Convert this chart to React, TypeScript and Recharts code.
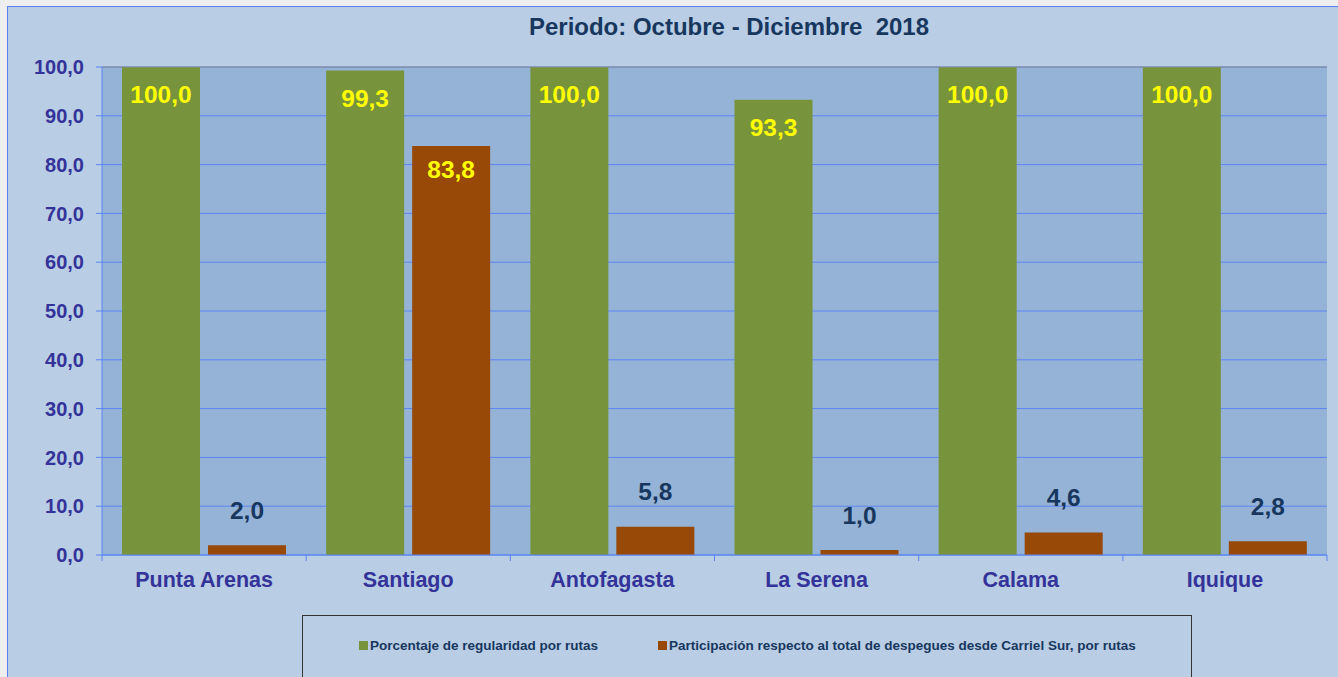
import React from 'react';
import {
  BarChart,
  Bar,
  XAxis,
  YAxis,
  CartesianGrid,
  ReferenceLine,
  LabelList
} from 'recharts';

const routes = ['Punta Arenas', 'Santiago', 'Antofagasta', 'La Serena', 'Calama', 'Iquique'];
const regularity = [100.0, 99.3, 100.0, 93.3, 100.0, 100.0];
const share = [2.0, 83.8, 5.8, 1.0, 4.6, 2.8];
const yTicks = [0, 10, 20, 30, 40, 50, 60, 70, 80, 90, 100];

const seriesNames = [
  'Porcentaje de regularidad por rutas',
  'Participación respecto al total de despegues desde Carriel Sur, por rutas'
];

const data = routes.map((name, i) => ({ name, regularity: regularity[i], share: share[i] }));

const FONT = '"Liberation Sans", Arial, sans-serif';
const GREEN = '#77933c';
const ORANGE = '#984807';
const NAVY = '#17375e';
const AXIS_TEXT = '#333399';
const GRID = '#5b84f2';

const W = 1338;
const H = 677;
const MARGIN = { top: 67, right: 11, bottom: 82, left: 12 };
const Y_WIDTH = 90;
const X_HEIGHT = 40;
const PLOT_LEFT = MARGIN.left + Y_WIDTH;
const PLOT_RIGHT = W - MARGIN.right;
const AXIS_Y = H - MARGIN.bottom - X_HEIGHT;
const BAND = (PLOT_RIGHT - PLOT_LEFT) / routes.length;

const fmt = (v: number) => v.toFixed(1).replace('.', ',');

// Excel-style category axis: ticks sit on the category boundaries
const XTick = (props: any) => {
  const { x, payload, index } = props;
  const left = x - BAND / 2;
  return (
    <g>
      <line x1={left} y1={AXIS_Y} x2={left} y2={AXIS_Y + 6} stroke={GRID} />
      {index === routes.length - 1 && (
        <line x1={left + BAND} y1={AXIS_Y} x2={left + BAND} y2={AXIS_Y + 6} stroke={GRID} />
      )}
      <text
        x={x}
        y={AXIS_Y + 26}
        textAnchor="middle"
        dominantBaseline="middle"
        fontFamily={FONT}
        fontSize={21.5}
        fontWeight="bold"
        fill={AXIS_TEXT}
      >
        {payload.value}
      </text>
    </g>
  );
};

const GreenLabel = (props: any) => {
  const { x, y, width, value } = props;
  return (
    <text
      x={x + width / 2}
      y={y + 30}
      textAnchor="middle"
      dominantBaseline="middle"
      fontFamily={FONT}
      fontSize={24.5}
      fontWeight="bold"
      fill="#ffff00"
    >
      {fmt(value)}
    </text>
  );
};

const OrangeLabel = (props: any) => {
  const { x, y, width, value } = props;
  const inside = value > 50;
  return (
    <text
      x={x + width / 2}
      y={inside ? y + 25 : y - 33}
      textAnchor="middle"
      dominantBaseline="middle"
      fontFamily={FONT}
      fontSize={24.5}
      fontWeight="bold"
      fill={inside ? '#ffff00' : NAVY}
    >
      {fmt(value)}
    </text>
  );
};

const LegendBox = () => (
  <div
    style={{
      position: 'absolute',
      left: 302,
      top: 615,
      width: 890,
      height: 70,
      border: '1px solid #333',
      boxSizing: 'border-box',
      fontFamily: FONT,
      fontSize: 13.5,
      fontWeight: 'bold',
      color: NAVY
    }}
  >
    {seriesNames.map((s, i) => (
      <div
        key={s}
        style={{
          position: 'absolute',
          left: i === 0 ? 56 : 355,
          top: 22,
          display: 'flex',
          alignItems: 'center',
          whiteSpace: 'nowrap'
        }}
      >
        <span
          style={{
            display: 'inline-block',
            width: 9,
            height: 9,
            background: i === 0 ? GREEN : ORANGE,
            marginRight: 2
          }}
        />
        {s}
      </div>
    ))}
  </div>
);

export default function App() {
  return (
    <div style={{ position: 'relative', width: W, height: H, background: '#eeeeee', overflow: 'hidden' }}>
      <style>{'body{margin:0}'}</style>
      <div
        style={{
          position: 'absolute',
          left: 7,
          top: 6,
          width: W,
          height: H,
          background: '#b9cde4',
          border: '1px solid #5b7ff0'
        }}
      />
      <div
        style={{
          position: 'absolute',
          left: 329,
          top: 13,
          width: 800,
          textAlign: 'center',
          fontFamily: FONT,
          fontSize: 24,
          fontWeight: 'bold',
          color: NAVY
        }}
      >
        Periodo: Octubre - Diciembre&nbsp; 2018
      </div>
      <div style={{ position: 'absolute', left: 0, top: 0 }}>
        <BarChart width={W} height={H} data={data} margin={MARGIN} barSize={78} barGap={8}>
          <CartesianGrid fill="#95b3d7" stroke={GRID} vertical={false} />
          <XAxis
            dataKey="name"
            height={X_HEIGHT}
            stroke={GRID}
            tickLine={false}
            tick={<XTick />}
            interval={0}
          />
          <XAxis xAxisId="edge" type="number" domain={[0, 6]} hide />
          <YAxis
            domain={[0, 100]}
            ticks={yTicks}
            width={Y_WIDTH}
            stroke={GRID}
            tickSize={6}
            tickMargin={12}
            tickFormatter={fmt}
            tick={{ fill: AXIS_TEXT, fontSize: 20, fontWeight: 'bold', fontFamily: FONT }}
          />
          <ReferenceLine y={100} stroke="#8c8c8c" />
          <ReferenceLine xAxisId="edge" x={6} stroke="#8c8c8c" />
          <Bar dataKey="regularity" fill={GREEN} isAnimationActive={false}>
            <LabelList dataKey="regularity" content={<GreenLabel />} />
          </Bar>
          <Bar dataKey="share" fill={ORANGE} isAnimationActive={false}>
            <LabelList dataKey="share" content={<OrangeLabel />} />
          </Bar>
        </BarChart>
      </div>
      <LegendBox />
    </div>
  );
}
